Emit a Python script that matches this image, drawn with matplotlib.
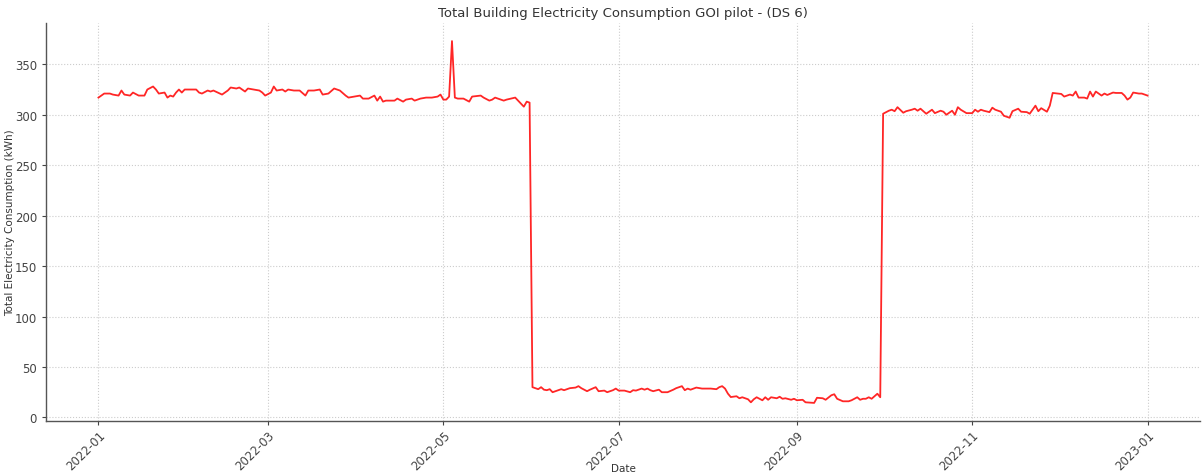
import pandas as pd
import matplotlib
matplotlib.use("Agg")
import matplotlib.pyplot as plt
import matplotlib.dates as mdates

# day offset from 2022-01-01 and the reading for that day (kWh)
day_offset = [
    0, 2, 4, 5, 7, 8, 9, 11, 12, 14, 16, 17, 19, 20, 21, 23, 24, 25, 26, 27,
    28, 29, 30, 32, 34, 35, 36, 38, 39, 40, 43, 45, 46, 48, 49, 51, 52, 54, 56, 57,
    58, 60, 61, 62, 64, 65, 66, 68, 70, 72, 73, 75, 77, 78, 80, 82, 84, 86, 87, 89,
    91, 92, 94, 96, 97, 98, 99, 100, 103, 104, 106, 107, 109, 110, 112, 114, 116, 118, 119, 120,
    121, 122, 123, 124, 125, 127, 129, 130, 133, 134, 136, 137, 138, 141, 142, 145, 147, 148, 149, 150,
    151, 153, 154, 155, 156, 157, 158, 159, 161, 162, 164, 166, 167, 168, 170, 171, 173, 174, 176, 177,
    179, 180, 181, 183, 185, 186, 187, 189, 190, 191, 192, 193, 195, 196, 198, 200, 201, 203, 204, 205,
    206, 208, 210, 211, 213, 215, 216, 217, 218, 219, 220, 222, 223, 224, 226, 227, 228, 229, 231, 232,
    233, 234, 236, 237, 238, 239, 241, 242, 243, 245, 246, 249, 250, 252, 253, 255, 256, 257, 259, 261,
    262, 264, 265, 266, 267, 268, 269, 270, 271, 272,
    273, 275, 276, 277, 278, 280, 281, 283, 284, 285, 286, 288, 290, 291, 293, 294, 295, 297, 298, 299,
    300, 302, 304, 305, 306, 307, 308, 310, 311, 312, 314, 315, 317, 318, 320, 321, 323, 324, 325, 326,
    327, 328, 330, 331, 332, 334, 335, 336, 338, 339, 340, 341, 343, 344, 345, 346, 347, 349, 350, 351,
    353, 354, 356, 357, 358, 359, 360, 362, 363, 365,
]
kwh = [
    317, 321, 321, 320, 319, 324, 320, 319, 322, 319, 319, 325, 328, 325, 321, 322, 317, 319, 318, 322,
    325, 322, 325, 325, 325, 322, 321, 324, 323, 324, 320, 324, 327, 326, 327, 323, 326, 325, 324, 322,
    319, 322, 328, 324, 325, 323, 325, 324, 324, 319, 324, 324, 325, 320, 321, 326, 324, 319, 317, 318,
    319, 316, 316, 319, 314, 318, 313, 314, 314, 316, 313, 315, 316, 314, 316, 317, 317, 318, 320, 315,
    315, 318, 373, 317, 316, 316, 313, 318, 319, 317, 314, 315, 317, 314, 315, 317, 311, 308, 313, 312,
    30, 28, 30, 27.5, 27, 28, 25, 26, 28, 27, 29, 29.6, 31, 29, 26, 27.5, 30, 26, 26.6, 25,
    27, 28.6, 26.6, 26.6, 25, 27, 26.6, 28.6, 27.5, 28.6, 27, 26, 27.5, 25, 25, 27.5, 29, 31, 27, 28.6,
    27.5, 29.6, 28.6, 28.6, 28.6, 28, 30, 31, 28.6, 23.6, 20.2, 21, 19, 20, 18, 15, 18, 20, 17, 20,
    17.5, 20, 19, 20.5, 18.5, 19, 17.5, 18.5, 17, 17.5, 15, 14.4, 19.5, 19, 17.5, 22, 23, 18.5, 16, 16,
    17, 20, 17.5, 18.5, 18.5, 20, 18.5, 21, 23.5, 20,
    301, 304, 305, 303.5, 307.5, 302, 303.5, 305, 306, 304, 306, 301, 305, 301.6, 304, 303, 300, 304, 300, 307.5,
    305, 301.6, 301.6, 305, 303, 305, 304, 302.6, 307, 305, 303, 299, 297, 303.5, 306, 303, 302.6, 301, 305, 309,
    303.5, 306.5, 303, 309, 321.6, 321, 320.6, 318, 320, 319, 323, 317, 317, 316, 323, 318, 323, 319, 321, 319.6,
    322, 321.6, 321.6, 319, 315, 317, 322, 321, 321, 319,
]

dates = pd.Timestamp("2022-01-01") + pd.to_timedelta(day_offset, unit="D")

fig = plt.figure(figsize=(12.03, 4.77), dpi=100)
ax = fig.add_axes([46 / 1203, 55 / 477, 1154 / 1203, 398 / 477])

ax.plot(dates, kwh, color="red", lw=1.3, alpha=0.85)

ax.set_title("Total Building Electricity Consumption GOI pilot - (DS 6)",
             fontsize=9.5, color="#333333", pad=5)
ax.set_xlabel("Date", fontsize=7.5, color="#333333")
ax.set_ylabel("Total Electricity Consumption (kWh)", fontsize=7.5, color="#333333")
ax.yaxis.set_label_coords(-0.027, 0.5)
ax.xaxis.set_label_coords(0.5, -0.105)

ax.xaxis.set_major_locator(mdates.MonthLocator(bymonth=[1, 3, 5, 7, 9, 11]))
ax.xaxis.set_major_formatter(mdates.DateFormatter("%Y-%m"))
ax.set_yticks([0, 50, 100, 150, 200, 250, 300, 350])
ax.tick_params(labelsize=8.5, colors="#444444", length=3)
ax.tick_params(axis="x", pad=2)
plt.setp(ax.get_xticklabels(), rotation=45, ha="right", rotation_mode="anchor")

ax.grid(True, color="#cccccc", linestyle=":", linewidth=0.8)
for s in ["top", "right"]:
    ax.spines[s].set_visible(False)
for s in ["left", "bottom"]:
    ax.spines[s].set_color("#555555")
    ax.spines[s].set_linewidth(1.0)

fig.savefig("out.png", dpi=100)
